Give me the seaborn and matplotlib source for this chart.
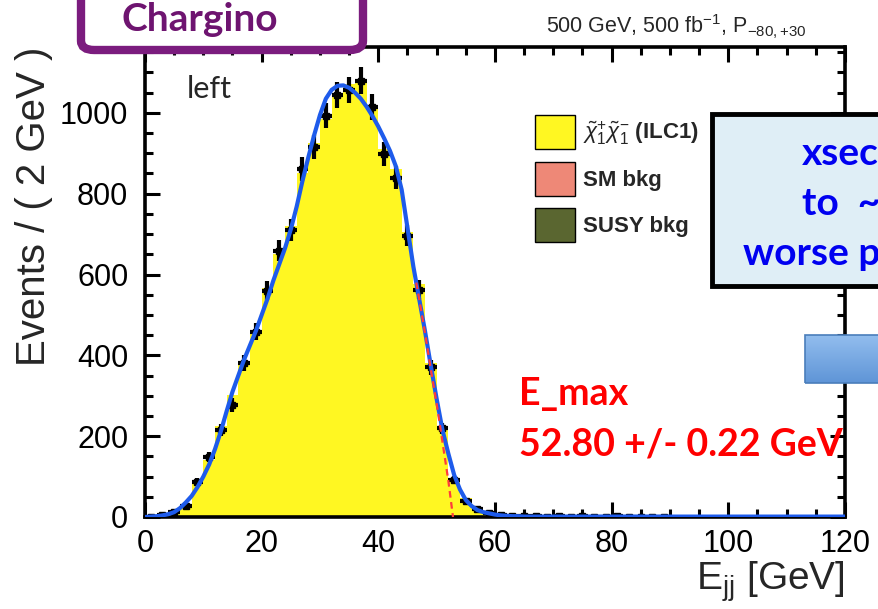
import numpy as np
import pandas as pd
import matplotlib
matplotlib.use("Agg")
import matplotlib.pyplot as plt
import seaborn as sns
from matplotlib.patches import Patch, Rectangle, FancyBboxPatch
from matplotlib.ticker import MultipleLocator

# ---------------- data ----------------
bin_edges = list(range(0, 122, 2))            # 2 GeV bins, 0..120
bin_centers = [e + 1 for e in bin_edges[:-1]]

data_counts = [1, 4, 12, 27, 87, 149, 215, 277, 382, 459,
               560, 659, 710, 861, 915, 993, 1045, 1057, 1080, 1014,
               898, 840, 696, 562, 370, 219, 92, 40, 21, 10,
               4, 3, 2, 3, 1, 2, 1, 2, 1, 1,
               2, 1, 1, 1, 1, 0, 0, 0, 0, 0,
               0, 0, 0, 0, 0, 0, 0, 0, 0, 0]

signal_mc = [1, 5, 14, 30, 80, 140, 225, 300, 385, 455,
             565, 650, 720, 850, 925, 985, 1040, 1070, 1075, 1015,
             910, 860, 705, 575, 380, 225, 95, 45, 18, 8,
             3, 2, 1, 1, 1, 1, 0, 0, 0, 0,
             0, 0, 0, 0, 0, 0, 0, 0, 0, 0,
             0, 0, 0, 0, 0, 0, 0, 0, 0, 0]

sm_bkg = [0, 0, 1, 1, 1, 1, 1, 1, 1, 1,
          1, 1, 1, 1, 1, 1, 1, 1, 1, 1,
          1, 1, 1, 1, 1, 1, 1, 1, 1, 1,
          1, 1, 1, 1, 1, 1, 1, 1, 1, 1,
          1, 1, 1, 1, 1, 0, 0, 0, 0, 0,
          0, 0, 0, 0, 0, 0, 0, 0, 0, 0]

susy_bkg = [0] * 60

fit_x = [0, 1, 2, 3, 4, 5, 6, 7, 8, 9, 10, 11, 12, 13, 14, 15, 16, 17, 18, 19,
         20, 21, 22, 23, 24, 25, 26, 27, 28, 29, 30, 31, 32, 33, 34, 35, 36, 37,
         38, 39, 40, 41, 42, 43, 44, 45, 46, 47, 48, 49, 50, 51, 52, 53, 54, 55,
         56, 57, 58, 59, 60, 61, 62, 63, 64, 65, 70, 120]
fit_y = [0, 1, 2, 4, 7, 12, 22, 36, 52, 74, 100, 130, 168, 212, 262, 310, 350, 390,
         425, 460, 500, 540, 585, 625, 665, 712, 768, 832, 890, 945, 995, 1035,
         1057, 1067, 1068, 1062, 1050, 1035, 1015, 992, 966, 937, 906, 868, 810,
         715, 620, 540, 460, 374, 292, 215, 157, 104, 68, 42, 27, 17, 12, 9, 6,
         4, 3, 2, 2, 1, 1, 1]

edge_x = [46.5, 47, 48, 49, 50, 51, 52, 52.8]
edge_y = [580, 540, 455, 365, 280, 185, 90, 0]

x_ticks = [0, 20, 40, 60, 80, 100, 120]
y_ticks = [0, 200, 400, 600, 800, 1000]

processes = ["chargino", "SM bkg", "SUSY bkg"]
legend_labels = [r"$\tilde{\chi}_{1}^{+}\tilde{\chi}_{1}^{-}$ (ILC1)", "SM bkg", "SUSY bkg"]
colors = {"chargino": "#FFF722", "SM bkg": "#EE8877", "SUSY bkg": "#5A6630"}

# ---------------- style ----------------
sns.set_style("ticks")
plt.rcParams["font.family"] = ["Liberation Sans", "DejaVu Sans"]
plt.rcParams["mathtext.fontset"] = "custom"
plt.rcParams["mathtext.rm"] = "Liberation Sans"
plt.rcParams["mathtext.it"] = "Liberation Sans:italic"
plt.rcParams["mathtext.bf"] = "Liberation Sans:bold"

W, H = 879, 609
fig = plt.figure(figsize=(W / 100, H / 100), dpi=100)
ax = fig.add_axes([145 / W, 1 - 517 / H, 700 / W, 470 / H])

df = pd.DataFrame({
    "E": bin_centers * 3,
    "N": signal_mc + sm_bkg + susy_bkg,
    "process": ["chargino"] * 60 + ["SM bkg"] * 60 + ["SUSY bkg"] * 60,
})
sns.histplot(data=df, x="E", weights="N", hue="process", hue_order=processes,
             multiple="stack", bins=bin_edges, palette=colors, alpha=1,
             linewidth=0, legend=False, ax=ax, zorder=1)

# data points
d = pd.DataFrame({"E": bin_centers, "N": data_counts})
d = d[d["N"] > 0]
ax.errorbar(d["E"], d["N"], xerr=1.0, yerr=np.sqrt(d["N"]), fmt="s",
            color="black", ms=4.5, elinewidth=3.0, capsize=0, zorder=3)

# fit curves
sns.lineplot(x=fit_x, y=fit_y, color="#1E5BEB", lw=3.0, ax=ax, zorder=5,
             estimator=None, sort=False)
ax.plot(edge_x, edge_y, color="#FF3B3B", lw=1.6, dashes=(3, 2), zorder=6)

ax.set_xlim(0, 120)
ax.set_ylim(0, 1163)
ax.set_xticks(x_ticks)
ax.set_yticks(y_ticks)
ax.xaxis.set_minor_locator(MultipleLocator(5))
ax.yaxis.set_minor_locator(MultipleLocator(50))
ax.tick_params(which="both", direction="in", top=True, right=True,
               width=2.2, colors="black", labelsize=22)
ax.tick_params(which="major", length=11, pad=9)
ax.tick_params(axis="y", which="major", pad=12)
ax.tick_params(which="minor", length=6)
for s in ax.spines.values():
    s.set_linewidth(2.6)
    s.set_color("black")
ax.set_xlabel(r"E$_{\mathrm{jj}}$ [GeV]", fontsize=28, loc="right", labelpad=0)
ax.set_ylabel("Events / ( 2 GeV )", fontsize=29, loc="top", labelpad=5)

# legend
handles = [Patch(facecolor=colors[p], edgecolor="black", linewidth=1.0) for p in processes]
fig.legend(handles, legend_labels, loc="upper left",
           bbox_to_anchor=(535 / W, 1 - 115 / H), frameon=False,
           prop={"weight": "bold", "size": 16}, handlelength=1.8,
           handleheight=2.0, labelspacing=0.55, handletextpad=0.35, borderpad=0,
           borderaxespad=0)

# texts
fig.text(546 / W, 1 - 33 / H, r"500 GeV, 500 fb$^{-1}$, P$_{-80,{+}30}$",
         fontsize=15.5, va="baseline", ha="left")
fig.text(187 / W, 1 - 98 / H, "left", fontsize=22, family=["Lato", "DejaVu Sans"],
         va="baseline", ha="left")
fig.text(519 / W, 1 - 405 / H, "E_max", fontsize=27, weight="bold", color="#FF0000",
         family=["Lato", "DejaVu Sans"], va="baseline", ha="left", zorder=10)
fig.text(519 / W, 1 - 455 / H, "52.80 +/- 0.22 GeV", fontsize=27, weight="bold",
         color="#FF0000", family=["Lato", "DejaVu Sans"], va="baseline", ha="left",
         zorder=10)

# Chargino box
fig.add_artist(FancyBboxPatch((81 / W, 1 - 50 / H), 282 / W, 80 / H,
                              boxstyle="round,pad=0,rounding_size=0.015",
                              transform=fig.transFigure, facecolor="white",
                              edgecolor="#7B1C7E", linewidth=6, zorder=8))
fig.text(200 / W, 1 - 31 / H, "Chargino", fontsize=28, weight="bold", color="#6E1470",
         family=["Lato", "DejaVu Sans"], ha="center", va="baseline", zorder=9)

# blue info box (cut off at the right edge)
fig.add_artist(Rectangle((712 / W, 1 - 286 / H), 200 / W, 172 / H,
                         transform=fig.transFigure, facecolor="#DFEEF6",
                         edgecolor="black", linewidth=3.5, zorder=8))
for txt, xl, yb in [("xsec", 802, 165), ("to  ~", 802, 215), ("worse p", 743, 265)]:
    fig.text(xl / W, 1 - yb / H, txt, fontsize=28, weight="bold", color="#0000F0",
             family=["Lato", "DejaVu Sans"], ha="left", va="baseline", zorder=9)

# gradient button (cut off at the right edge)
bax = fig.add_axes([805 / W, 1 - 383 / H, 100 / W, 48 / H], zorder=8)
grad = np.linspace(0, 1, 64).reshape(-1, 1)
bax.imshow(grad, aspect="auto", cmap=matplotlib.colors.LinearSegmentedColormap.from_list(
    "btn", ["#92BDEE", "#5F95D7"]), extent=(0, 1, 0, 1), origin="upper")
bax.set_axis_off()
fig.add_artist(Rectangle((805 / W, 1 - 383 / H), 100 / W, 48 / H,
                         transform=fig.transFigure, facecolor="none",
                         edgecolor="#4A7EBB", linewidth=1.2, zorder=9))

fig.savefig("out.png", dpi=100)
